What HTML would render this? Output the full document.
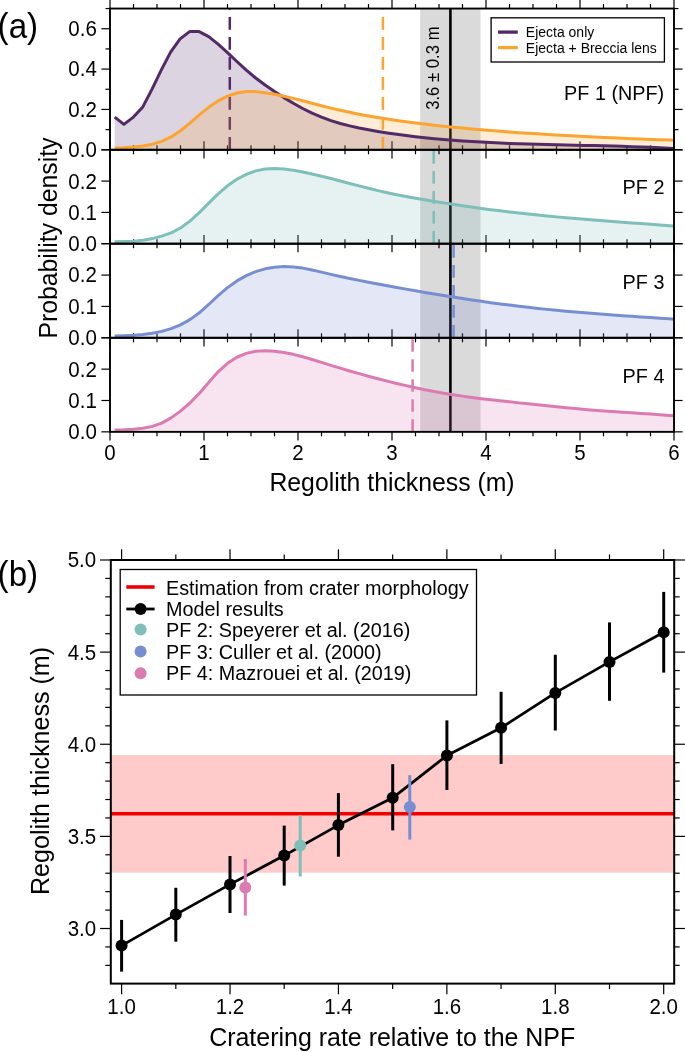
<!DOCTYPE html><html><head><meta charset="utf-8"><style>html,body{margin:0;padding:0;background:#fff;}svg{display:block;will-change:transform;}text{font-family:"Liberation Sans", sans-serif;}</style></head><body>
<svg width="685" height="1052" viewBox="0 0 685 1052">
<rect width="100%" height="100%" fill="#fff"/>
<rect x="420.2" y="8.55" width="60.30" height="423.30" fill="#dadada"/>
<line x1="450.4" y1="8.55" x2="450.4" y2="431.85" stroke="#000" stroke-width="2.6"/>
<line x1="110.00" y1="8.55" x2="110.00" y2="-0.05" stroke="#000" stroke-width="1.20"/>
<line x1="110.00" y1="149.80" x2="110.00" y2="158.40" stroke="#000" stroke-width="1.20"/>
<line x1="133.50" y1="8.55" x2="133.50" y2="4.05" stroke="#000" stroke-width="1.20"/>
<line x1="133.50" y1="149.80" x2="133.50" y2="154.30" stroke="#000" stroke-width="1.20"/>
<line x1="157.00" y1="8.55" x2="157.00" y2="4.05" stroke="#000" stroke-width="1.20"/>
<line x1="157.00" y1="149.80" x2="157.00" y2="154.30" stroke="#000" stroke-width="1.20"/>
<line x1="180.50" y1="8.55" x2="180.50" y2="4.05" stroke="#000" stroke-width="1.20"/>
<line x1="180.50" y1="149.80" x2="180.50" y2="154.30" stroke="#000" stroke-width="1.20"/>
<line x1="204.00" y1="8.55" x2="204.00" y2="-0.05" stroke="#000" stroke-width="1.20"/>
<line x1="204.00" y1="149.80" x2="204.00" y2="158.40" stroke="#000" stroke-width="1.20"/>
<line x1="227.50" y1="8.55" x2="227.50" y2="4.05" stroke="#000" stroke-width="1.20"/>
<line x1="227.50" y1="149.80" x2="227.50" y2="154.30" stroke="#000" stroke-width="1.20"/>
<line x1="251.00" y1="8.55" x2="251.00" y2="4.05" stroke="#000" stroke-width="1.20"/>
<line x1="251.00" y1="149.80" x2="251.00" y2="154.30" stroke="#000" stroke-width="1.20"/>
<line x1="274.50" y1="8.55" x2="274.50" y2="4.05" stroke="#000" stroke-width="1.20"/>
<line x1="274.50" y1="149.80" x2="274.50" y2="154.30" stroke="#000" stroke-width="1.20"/>
<line x1="298.00" y1="8.55" x2="298.00" y2="-0.05" stroke="#000" stroke-width="1.20"/>
<line x1="298.00" y1="149.80" x2="298.00" y2="158.40" stroke="#000" stroke-width="1.20"/>
<line x1="321.50" y1="8.55" x2="321.50" y2="4.05" stroke="#000" stroke-width="1.20"/>
<line x1="321.50" y1="149.80" x2="321.50" y2="154.30" stroke="#000" stroke-width="1.20"/>
<line x1="345.00" y1="8.55" x2="345.00" y2="4.05" stroke="#000" stroke-width="1.20"/>
<line x1="345.00" y1="149.80" x2="345.00" y2="154.30" stroke="#000" stroke-width="1.20"/>
<line x1="368.50" y1="8.55" x2="368.50" y2="4.05" stroke="#000" stroke-width="1.20"/>
<line x1="368.50" y1="149.80" x2="368.50" y2="154.30" stroke="#000" stroke-width="1.20"/>
<line x1="392.00" y1="8.55" x2="392.00" y2="-0.05" stroke="#000" stroke-width="1.20"/>
<line x1="392.00" y1="149.80" x2="392.00" y2="158.40" stroke="#000" stroke-width="1.20"/>
<line x1="415.50" y1="8.55" x2="415.50" y2="4.05" stroke="#000" stroke-width="1.20"/>
<line x1="415.50" y1="149.80" x2="415.50" y2="154.30" stroke="#000" stroke-width="1.20"/>
<line x1="439.00" y1="8.55" x2="439.00" y2="4.05" stroke="#000" stroke-width="1.20"/>
<line x1="439.00" y1="149.80" x2="439.00" y2="154.30" stroke="#000" stroke-width="1.20"/>
<line x1="462.50" y1="8.55" x2="462.50" y2="4.05" stroke="#000" stroke-width="1.20"/>
<line x1="462.50" y1="149.80" x2="462.50" y2="154.30" stroke="#000" stroke-width="1.20"/>
<line x1="486.00" y1="8.55" x2="486.00" y2="-0.05" stroke="#000" stroke-width="1.20"/>
<line x1="486.00" y1="149.80" x2="486.00" y2="158.40" stroke="#000" stroke-width="1.20"/>
<line x1="509.50" y1="8.55" x2="509.50" y2="4.05" stroke="#000" stroke-width="1.20"/>
<line x1="509.50" y1="149.80" x2="509.50" y2="154.30" stroke="#000" stroke-width="1.20"/>
<line x1="533.00" y1="8.55" x2="533.00" y2="4.05" stroke="#000" stroke-width="1.20"/>
<line x1="533.00" y1="149.80" x2="533.00" y2="154.30" stroke="#000" stroke-width="1.20"/>
<line x1="556.50" y1="8.55" x2="556.50" y2="4.05" stroke="#000" stroke-width="1.20"/>
<line x1="556.50" y1="149.80" x2="556.50" y2="154.30" stroke="#000" stroke-width="1.20"/>
<line x1="580.00" y1="8.55" x2="580.00" y2="-0.05" stroke="#000" stroke-width="1.20"/>
<line x1="580.00" y1="149.80" x2="580.00" y2="158.40" stroke="#000" stroke-width="1.20"/>
<line x1="603.50" y1="8.55" x2="603.50" y2="4.05" stroke="#000" stroke-width="1.20"/>
<line x1="603.50" y1="149.80" x2="603.50" y2="154.30" stroke="#000" stroke-width="1.20"/>
<line x1="627.00" y1="8.55" x2="627.00" y2="4.05" stroke="#000" stroke-width="1.20"/>
<line x1="627.00" y1="149.80" x2="627.00" y2="154.30" stroke="#000" stroke-width="1.20"/>
<line x1="650.50" y1="8.55" x2="650.50" y2="4.05" stroke="#000" stroke-width="1.20"/>
<line x1="650.50" y1="149.80" x2="650.50" y2="154.30" stroke="#000" stroke-width="1.20"/>
<line x1="674.00" y1="8.55" x2="674.00" y2="-0.05" stroke="#000" stroke-width="1.20"/>
<line x1="674.00" y1="149.80" x2="674.00" y2="158.40" stroke="#000" stroke-width="1.20"/>
<line x1="110.00" y1="149.80" x2="101.40" y2="149.80" stroke="#000" stroke-width="1.20"/>
<line x1="674.00" y1="149.80" x2="682.60" y2="149.80" stroke="#000" stroke-width="1.20"/>
<line x1="110.00" y1="129.62" x2="105.50" y2="129.62" stroke="#000" stroke-width="1.20"/>
<line x1="674.00" y1="129.62" x2="678.50" y2="129.62" stroke="#000" stroke-width="1.20"/>
<line x1="110.00" y1="109.44" x2="101.40" y2="109.44" stroke="#000" stroke-width="1.20"/>
<line x1="674.00" y1="109.44" x2="682.60" y2="109.44" stroke="#000" stroke-width="1.20"/>
<line x1="110.00" y1="89.26" x2="105.50" y2="89.26" stroke="#000" stroke-width="1.20"/>
<line x1="674.00" y1="89.26" x2="678.50" y2="89.26" stroke="#000" stroke-width="1.20"/>
<line x1="110.00" y1="69.09" x2="101.40" y2="69.09" stroke="#000" stroke-width="1.20"/>
<line x1="674.00" y1="69.09" x2="682.60" y2="69.09" stroke="#000" stroke-width="1.20"/>
<line x1="110.00" y1="48.91" x2="105.50" y2="48.91" stroke="#000" stroke-width="1.20"/>
<line x1="674.00" y1="48.91" x2="678.50" y2="48.91" stroke="#000" stroke-width="1.20"/>
<line x1="110.00" y1="28.73" x2="101.40" y2="28.73" stroke="#000" stroke-width="1.20"/>
<line x1="674.00" y1="28.73" x2="682.60" y2="28.73" stroke="#000" stroke-width="1.20"/>
<line x1="110.00" y1="8.55" x2="105.50" y2="8.55" stroke="#000" stroke-width="1.20"/>
<line x1="674.00" y1="8.55" x2="678.50" y2="8.55" stroke="#000" stroke-width="1.20"/>
<line x1="110.00" y1="149.80" x2="110.00" y2="141.20" stroke="#000" stroke-width="1.20"/>
<line x1="110.00" y1="243.70" x2="110.00" y2="252.30" stroke="#000" stroke-width="1.20"/>
<line x1="133.50" y1="149.80" x2="133.50" y2="145.30" stroke="#000" stroke-width="1.20"/>
<line x1="133.50" y1="243.70" x2="133.50" y2="248.20" stroke="#000" stroke-width="1.20"/>
<line x1="157.00" y1="149.80" x2="157.00" y2="145.30" stroke="#000" stroke-width="1.20"/>
<line x1="157.00" y1="243.70" x2="157.00" y2="248.20" stroke="#000" stroke-width="1.20"/>
<line x1="180.50" y1="149.80" x2="180.50" y2="145.30" stroke="#000" stroke-width="1.20"/>
<line x1="180.50" y1="243.70" x2="180.50" y2="248.20" stroke="#000" stroke-width="1.20"/>
<line x1="204.00" y1="149.80" x2="204.00" y2="141.20" stroke="#000" stroke-width="1.20"/>
<line x1="204.00" y1="243.70" x2="204.00" y2="252.30" stroke="#000" stroke-width="1.20"/>
<line x1="227.50" y1="149.80" x2="227.50" y2="145.30" stroke="#000" stroke-width="1.20"/>
<line x1="227.50" y1="243.70" x2="227.50" y2="248.20" stroke="#000" stroke-width="1.20"/>
<line x1="251.00" y1="149.80" x2="251.00" y2="145.30" stroke="#000" stroke-width="1.20"/>
<line x1="251.00" y1="243.70" x2="251.00" y2="248.20" stroke="#000" stroke-width="1.20"/>
<line x1="274.50" y1="149.80" x2="274.50" y2="145.30" stroke="#000" stroke-width="1.20"/>
<line x1="274.50" y1="243.70" x2="274.50" y2="248.20" stroke="#000" stroke-width="1.20"/>
<line x1="298.00" y1="149.80" x2="298.00" y2="141.20" stroke="#000" stroke-width="1.20"/>
<line x1="298.00" y1="243.70" x2="298.00" y2="252.30" stroke="#000" stroke-width="1.20"/>
<line x1="321.50" y1="149.80" x2="321.50" y2="145.30" stroke="#000" stroke-width="1.20"/>
<line x1="321.50" y1="243.70" x2="321.50" y2="248.20" stroke="#000" stroke-width="1.20"/>
<line x1="345.00" y1="149.80" x2="345.00" y2="145.30" stroke="#000" stroke-width="1.20"/>
<line x1="345.00" y1="243.70" x2="345.00" y2="248.20" stroke="#000" stroke-width="1.20"/>
<line x1="368.50" y1="149.80" x2="368.50" y2="145.30" stroke="#000" stroke-width="1.20"/>
<line x1="368.50" y1="243.70" x2="368.50" y2="248.20" stroke="#000" stroke-width="1.20"/>
<line x1="392.00" y1="149.80" x2="392.00" y2="141.20" stroke="#000" stroke-width="1.20"/>
<line x1="392.00" y1="243.70" x2="392.00" y2="252.30" stroke="#000" stroke-width="1.20"/>
<line x1="415.50" y1="149.80" x2="415.50" y2="145.30" stroke="#000" stroke-width="1.20"/>
<line x1="415.50" y1="243.70" x2="415.50" y2="248.20" stroke="#000" stroke-width="1.20"/>
<line x1="439.00" y1="149.80" x2="439.00" y2="145.30" stroke="#000" stroke-width="1.20"/>
<line x1="439.00" y1="243.70" x2="439.00" y2="248.20" stroke="#000" stroke-width="1.20"/>
<line x1="462.50" y1="149.80" x2="462.50" y2="145.30" stroke="#000" stroke-width="1.20"/>
<line x1="462.50" y1="243.70" x2="462.50" y2="248.20" stroke="#000" stroke-width="1.20"/>
<line x1="486.00" y1="149.80" x2="486.00" y2="141.20" stroke="#000" stroke-width="1.20"/>
<line x1="486.00" y1="243.70" x2="486.00" y2="252.30" stroke="#000" stroke-width="1.20"/>
<line x1="509.50" y1="149.80" x2="509.50" y2="145.30" stroke="#000" stroke-width="1.20"/>
<line x1="509.50" y1="243.70" x2="509.50" y2="248.20" stroke="#000" stroke-width="1.20"/>
<line x1="533.00" y1="149.80" x2="533.00" y2="145.30" stroke="#000" stroke-width="1.20"/>
<line x1="533.00" y1="243.70" x2="533.00" y2="248.20" stroke="#000" stroke-width="1.20"/>
<line x1="556.50" y1="149.80" x2="556.50" y2="145.30" stroke="#000" stroke-width="1.20"/>
<line x1="556.50" y1="243.70" x2="556.50" y2="248.20" stroke="#000" stroke-width="1.20"/>
<line x1="580.00" y1="149.80" x2="580.00" y2="141.20" stroke="#000" stroke-width="1.20"/>
<line x1="580.00" y1="243.70" x2="580.00" y2="252.30" stroke="#000" stroke-width="1.20"/>
<line x1="603.50" y1="149.80" x2="603.50" y2="145.30" stroke="#000" stroke-width="1.20"/>
<line x1="603.50" y1="243.70" x2="603.50" y2="248.20" stroke="#000" stroke-width="1.20"/>
<line x1="627.00" y1="149.80" x2="627.00" y2="145.30" stroke="#000" stroke-width="1.20"/>
<line x1="627.00" y1="243.70" x2="627.00" y2="248.20" stroke="#000" stroke-width="1.20"/>
<line x1="650.50" y1="149.80" x2="650.50" y2="145.30" stroke="#000" stroke-width="1.20"/>
<line x1="650.50" y1="243.70" x2="650.50" y2="248.20" stroke="#000" stroke-width="1.20"/>
<line x1="674.00" y1="149.80" x2="674.00" y2="141.20" stroke="#000" stroke-width="1.20"/>
<line x1="674.00" y1="243.70" x2="674.00" y2="252.30" stroke="#000" stroke-width="1.20"/>
<line x1="110.00" y1="243.70" x2="101.40" y2="243.70" stroke="#000" stroke-width="1.20"/>
<line x1="674.00" y1="243.70" x2="682.60" y2="243.70" stroke="#000" stroke-width="1.20"/>
<line x1="110.00" y1="212.40" x2="101.40" y2="212.40" stroke="#000" stroke-width="1.20"/>
<line x1="674.00" y1="212.40" x2="682.60" y2="212.40" stroke="#000" stroke-width="1.20"/>
<line x1="110.00" y1="181.10" x2="101.40" y2="181.10" stroke="#000" stroke-width="1.20"/>
<line x1="674.00" y1="181.10" x2="682.60" y2="181.10" stroke="#000" stroke-width="1.20"/>
<line x1="110.00" y1="149.80" x2="101.40" y2="149.80" stroke="#000" stroke-width="1.20"/>
<line x1="674.00" y1="149.80" x2="682.60" y2="149.80" stroke="#000" stroke-width="1.20"/>
<line x1="110.00" y1="243.70" x2="110.00" y2="235.10" stroke="#000" stroke-width="1.20"/>
<line x1="110.00" y1="337.80" x2="110.00" y2="346.40" stroke="#000" stroke-width="1.20"/>
<line x1="133.50" y1="243.70" x2="133.50" y2="239.20" stroke="#000" stroke-width="1.20"/>
<line x1="133.50" y1="337.80" x2="133.50" y2="342.30" stroke="#000" stroke-width="1.20"/>
<line x1="157.00" y1="243.70" x2="157.00" y2="239.20" stroke="#000" stroke-width="1.20"/>
<line x1="157.00" y1="337.80" x2="157.00" y2="342.30" stroke="#000" stroke-width="1.20"/>
<line x1="180.50" y1="243.70" x2="180.50" y2="239.20" stroke="#000" stroke-width="1.20"/>
<line x1="180.50" y1="337.80" x2="180.50" y2="342.30" stroke="#000" stroke-width="1.20"/>
<line x1="204.00" y1="243.70" x2="204.00" y2="235.10" stroke="#000" stroke-width="1.20"/>
<line x1="204.00" y1="337.80" x2="204.00" y2="346.40" stroke="#000" stroke-width="1.20"/>
<line x1="227.50" y1="243.70" x2="227.50" y2="239.20" stroke="#000" stroke-width="1.20"/>
<line x1="227.50" y1="337.80" x2="227.50" y2="342.30" stroke="#000" stroke-width="1.20"/>
<line x1="251.00" y1="243.70" x2="251.00" y2="239.20" stroke="#000" stroke-width="1.20"/>
<line x1="251.00" y1="337.80" x2="251.00" y2="342.30" stroke="#000" stroke-width="1.20"/>
<line x1="274.50" y1="243.70" x2="274.50" y2="239.20" stroke="#000" stroke-width="1.20"/>
<line x1="274.50" y1="337.80" x2="274.50" y2="342.30" stroke="#000" stroke-width="1.20"/>
<line x1="298.00" y1="243.70" x2="298.00" y2="235.10" stroke="#000" stroke-width="1.20"/>
<line x1="298.00" y1="337.80" x2="298.00" y2="346.40" stroke="#000" stroke-width="1.20"/>
<line x1="321.50" y1="243.70" x2="321.50" y2="239.20" stroke="#000" stroke-width="1.20"/>
<line x1="321.50" y1="337.80" x2="321.50" y2="342.30" stroke="#000" stroke-width="1.20"/>
<line x1="345.00" y1="243.70" x2="345.00" y2="239.20" stroke="#000" stroke-width="1.20"/>
<line x1="345.00" y1="337.80" x2="345.00" y2="342.30" stroke="#000" stroke-width="1.20"/>
<line x1="368.50" y1="243.70" x2="368.50" y2="239.20" stroke="#000" stroke-width="1.20"/>
<line x1="368.50" y1="337.80" x2="368.50" y2="342.30" stroke="#000" stroke-width="1.20"/>
<line x1="392.00" y1="243.70" x2="392.00" y2="235.10" stroke="#000" stroke-width="1.20"/>
<line x1="392.00" y1="337.80" x2="392.00" y2="346.40" stroke="#000" stroke-width="1.20"/>
<line x1="415.50" y1="243.70" x2="415.50" y2="239.20" stroke="#000" stroke-width="1.20"/>
<line x1="415.50" y1="337.80" x2="415.50" y2="342.30" stroke="#000" stroke-width="1.20"/>
<line x1="439.00" y1="243.70" x2="439.00" y2="239.20" stroke="#000" stroke-width="1.20"/>
<line x1="439.00" y1="337.80" x2="439.00" y2="342.30" stroke="#000" stroke-width="1.20"/>
<line x1="462.50" y1="243.70" x2="462.50" y2="239.20" stroke="#000" stroke-width="1.20"/>
<line x1="462.50" y1="337.80" x2="462.50" y2="342.30" stroke="#000" stroke-width="1.20"/>
<line x1="486.00" y1="243.70" x2="486.00" y2="235.10" stroke="#000" stroke-width="1.20"/>
<line x1="486.00" y1="337.80" x2="486.00" y2="346.40" stroke="#000" stroke-width="1.20"/>
<line x1="509.50" y1="243.70" x2="509.50" y2="239.20" stroke="#000" stroke-width="1.20"/>
<line x1="509.50" y1="337.80" x2="509.50" y2="342.30" stroke="#000" stroke-width="1.20"/>
<line x1="533.00" y1="243.70" x2="533.00" y2="239.20" stroke="#000" stroke-width="1.20"/>
<line x1="533.00" y1="337.80" x2="533.00" y2="342.30" stroke="#000" stroke-width="1.20"/>
<line x1="556.50" y1="243.70" x2="556.50" y2="239.20" stroke="#000" stroke-width="1.20"/>
<line x1="556.50" y1="337.80" x2="556.50" y2="342.30" stroke="#000" stroke-width="1.20"/>
<line x1="580.00" y1="243.70" x2="580.00" y2="235.10" stroke="#000" stroke-width="1.20"/>
<line x1="580.00" y1="337.80" x2="580.00" y2="346.40" stroke="#000" stroke-width="1.20"/>
<line x1="603.50" y1="243.70" x2="603.50" y2="239.20" stroke="#000" stroke-width="1.20"/>
<line x1="603.50" y1="337.80" x2="603.50" y2="342.30" stroke="#000" stroke-width="1.20"/>
<line x1="627.00" y1="243.70" x2="627.00" y2="239.20" stroke="#000" stroke-width="1.20"/>
<line x1="627.00" y1="337.80" x2="627.00" y2="342.30" stroke="#000" stroke-width="1.20"/>
<line x1="650.50" y1="243.70" x2="650.50" y2="239.20" stroke="#000" stroke-width="1.20"/>
<line x1="650.50" y1="337.80" x2="650.50" y2="342.30" stroke="#000" stroke-width="1.20"/>
<line x1="674.00" y1="243.70" x2="674.00" y2="235.10" stroke="#000" stroke-width="1.20"/>
<line x1="674.00" y1="337.80" x2="674.00" y2="346.40" stroke="#000" stroke-width="1.20"/>
<line x1="110.00" y1="337.80" x2="101.40" y2="337.80" stroke="#000" stroke-width="1.20"/>
<line x1="674.00" y1="337.80" x2="682.60" y2="337.80" stroke="#000" stroke-width="1.20"/>
<line x1="110.00" y1="306.43" x2="101.40" y2="306.43" stroke="#000" stroke-width="1.20"/>
<line x1="674.00" y1="306.43" x2="682.60" y2="306.43" stroke="#000" stroke-width="1.20"/>
<line x1="110.00" y1="275.07" x2="101.40" y2="275.07" stroke="#000" stroke-width="1.20"/>
<line x1="674.00" y1="275.07" x2="682.60" y2="275.07" stroke="#000" stroke-width="1.20"/>
<line x1="110.00" y1="243.70" x2="101.40" y2="243.70" stroke="#000" stroke-width="1.20"/>
<line x1="674.00" y1="243.70" x2="682.60" y2="243.70" stroke="#000" stroke-width="1.20"/>
<line x1="110.00" y1="337.80" x2="110.00" y2="329.20" stroke="#000" stroke-width="1.20"/>
<line x1="110.00" y1="431.85" x2="110.00" y2="440.45" stroke="#000" stroke-width="1.20"/>
<line x1="133.50" y1="337.80" x2="133.50" y2="333.30" stroke="#000" stroke-width="1.20"/>
<line x1="133.50" y1="431.85" x2="133.50" y2="436.35" stroke="#000" stroke-width="1.20"/>
<line x1="157.00" y1="337.80" x2="157.00" y2="333.30" stroke="#000" stroke-width="1.20"/>
<line x1="157.00" y1="431.85" x2="157.00" y2="436.35" stroke="#000" stroke-width="1.20"/>
<line x1="180.50" y1="337.80" x2="180.50" y2="333.30" stroke="#000" stroke-width="1.20"/>
<line x1="180.50" y1="431.85" x2="180.50" y2="436.35" stroke="#000" stroke-width="1.20"/>
<line x1="204.00" y1="337.80" x2="204.00" y2="329.20" stroke="#000" stroke-width="1.20"/>
<line x1="204.00" y1="431.85" x2="204.00" y2="440.45" stroke="#000" stroke-width="1.20"/>
<line x1="227.50" y1="337.80" x2="227.50" y2="333.30" stroke="#000" stroke-width="1.20"/>
<line x1="227.50" y1="431.85" x2="227.50" y2="436.35" stroke="#000" stroke-width="1.20"/>
<line x1="251.00" y1="337.80" x2="251.00" y2="333.30" stroke="#000" stroke-width="1.20"/>
<line x1="251.00" y1="431.85" x2="251.00" y2="436.35" stroke="#000" stroke-width="1.20"/>
<line x1="274.50" y1="337.80" x2="274.50" y2="333.30" stroke="#000" stroke-width="1.20"/>
<line x1="274.50" y1="431.85" x2="274.50" y2="436.35" stroke="#000" stroke-width="1.20"/>
<line x1="298.00" y1="337.80" x2="298.00" y2="329.20" stroke="#000" stroke-width="1.20"/>
<line x1="298.00" y1="431.85" x2="298.00" y2="440.45" stroke="#000" stroke-width="1.20"/>
<line x1="321.50" y1="337.80" x2="321.50" y2="333.30" stroke="#000" stroke-width="1.20"/>
<line x1="321.50" y1="431.85" x2="321.50" y2="436.35" stroke="#000" stroke-width="1.20"/>
<line x1="345.00" y1="337.80" x2="345.00" y2="333.30" stroke="#000" stroke-width="1.20"/>
<line x1="345.00" y1="431.85" x2="345.00" y2="436.35" stroke="#000" stroke-width="1.20"/>
<line x1="368.50" y1="337.80" x2="368.50" y2="333.30" stroke="#000" stroke-width="1.20"/>
<line x1="368.50" y1="431.85" x2="368.50" y2="436.35" stroke="#000" stroke-width="1.20"/>
<line x1="392.00" y1="337.80" x2="392.00" y2="329.20" stroke="#000" stroke-width="1.20"/>
<line x1="392.00" y1="431.85" x2="392.00" y2="440.45" stroke="#000" stroke-width="1.20"/>
<line x1="415.50" y1="337.80" x2="415.50" y2="333.30" stroke="#000" stroke-width="1.20"/>
<line x1="415.50" y1="431.85" x2="415.50" y2="436.35" stroke="#000" stroke-width="1.20"/>
<line x1="439.00" y1="337.80" x2="439.00" y2="333.30" stroke="#000" stroke-width="1.20"/>
<line x1="439.00" y1="431.85" x2="439.00" y2="436.35" stroke="#000" stroke-width="1.20"/>
<line x1="462.50" y1="337.80" x2="462.50" y2="333.30" stroke="#000" stroke-width="1.20"/>
<line x1="462.50" y1="431.85" x2="462.50" y2="436.35" stroke="#000" stroke-width="1.20"/>
<line x1="486.00" y1="337.80" x2="486.00" y2="329.20" stroke="#000" stroke-width="1.20"/>
<line x1="486.00" y1="431.85" x2="486.00" y2="440.45" stroke="#000" stroke-width="1.20"/>
<line x1="509.50" y1="337.80" x2="509.50" y2="333.30" stroke="#000" stroke-width="1.20"/>
<line x1="509.50" y1="431.85" x2="509.50" y2="436.35" stroke="#000" stroke-width="1.20"/>
<line x1="533.00" y1="337.80" x2="533.00" y2="333.30" stroke="#000" stroke-width="1.20"/>
<line x1="533.00" y1="431.85" x2="533.00" y2="436.35" stroke="#000" stroke-width="1.20"/>
<line x1="556.50" y1="337.80" x2="556.50" y2="333.30" stroke="#000" stroke-width="1.20"/>
<line x1="556.50" y1="431.85" x2="556.50" y2="436.35" stroke="#000" stroke-width="1.20"/>
<line x1="580.00" y1="337.80" x2="580.00" y2="329.20" stroke="#000" stroke-width="1.20"/>
<line x1="580.00" y1="431.85" x2="580.00" y2="440.45" stroke="#000" stroke-width="1.20"/>
<line x1="603.50" y1="337.80" x2="603.50" y2="333.30" stroke="#000" stroke-width="1.20"/>
<line x1="603.50" y1="431.85" x2="603.50" y2="436.35" stroke="#000" stroke-width="1.20"/>
<line x1="627.00" y1="337.80" x2="627.00" y2="333.30" stroke="#000" stroke-width="1.20"/>
<line x1="627.00" y1="431.85" x2="627.00" y2="436.35" stroke="#000" stroke-width="1.20"/>
<line x1="650.50" y1="337.80" x2="650.50" y2="333.30" stroke="#000" stroke-width="1.20"/>
<line x1="650.50" y1="431.85" x2="650.50" y2="436.35" stroke="#000" stroke-width="1.20"/>
<line x1="674.00" y1="337.80" x2="674.00" y2="329.20" stroke="#000" stroke-width="1.20"/>
<line x1="674.00" y1="431.85" x2="674.00" y2="440.45" stroke="#000" stroke-width="1.20"/>
<line x1="110.00" y1="431.85" x2="101.40" y2="431.85" stroke="#000" stroke-width="1.20"/>
<line x1="674.00" y1="431.85" x2="682.60" y2="431.85" stroke="#000" stroke-width="1.20"/>
<line x1="110.00" y1="400.50" x2="101.40" y2="400.50" stroke="#000" stroke-width="1.20"/>
<line x1="674.00" y1="400.50" x2="682.60" y2="400.50" stroke="#000" stroke-width="1.20"/>
<line x1="110.00" y1="369.15" x2="101.40" y2="369.15" stroke="#000" stroke-width="1.20"/>
<line x1="674.00" y1="369.15" x2="682.60" y2="369.15" stroke="#000" stroke-width="1.20"/>
<line x1="110.00" y1="337.80" x2="101.40" y2="337.80" stroke="#000" stroke-width="1.20"/>
<line x1="674.00" y1="337.80" x2="682.60" y2="337.80" stroke="#000" stroke-width="1.20"/>
<text transform="translate(438.60,109.80) rotate(-90) scale(1,1.050)" font-size="16.70">3.6 ± 0.3 m</text>
<polygon points="114.70,149.80 114.70,117.10 123.90,124.40 133.40,117.10 142.80,106.90 152.30,88.60 161.10,70.40 170.60,52.10 180.10,38.90 189.60,31.60 199.10,31.60 208.70,36.57 218.10,44.05 227.50,52.57 236.90,61.48 246.30,70.13 255.70,77.98 265.10,85.06 274.50,91.55 283.90,97.61 293.30,103.29 302.70,108.50 312.10,113.16 321.50,117.18 330.90,120.59 340.30,123.47 349.70,125.91 359.10,127.99 368.50,129.80 377.90,131.43 387.30,132.92 396.70,134.29 406.10,135.54 415.50,136.68 424.90,137.72 434.30,138.66 443.70,139.51 453.10,140.27 462.50,140.95 471.90,141.56 481.30,142.10 490.70,142.58 500.10,143.01 509.50,143.39 518.90,143.72 528.30,144.02 537.70,144.29 547.10,144.53 556.50,144.76 565.90,144.97 575.30,145.18 584.70,145.38 594.10,145.60 603.50,145.83 612.90,146.07 622.30,146.34 631.70,146.65 641.10,146.98 650.50,147.37 659.90,147.80 669.30,148.29 674.00,148.56 674.00,149.80" fill="#522a67" fill-opacity="0.20"/>
<line x1="229.80" y1="149.80" x2="229.80" y2="8.55" stroke="#522a67" stroke-width="2.50" stroke-dasharray="12.7 7.3"/>
<polygon points="114.70,149.80 114.70,148.11 124.10,147.79 133.50,147.05 142.90,145.91 152.30,144.18 161.70,141.32 171.10,136.89 180.50,130.76 189.90,123.10 199.30,114.93 208.70,107.34 218.10,100.93 227.50,96.09 236.90,92.96 246.30,91.57 255.70,91.62 265.10,92.65 274.50,94.22 283.90,96.18 293.30,98.41 302.70,100.81 312.10,103.29 321.50,105.75 330.90,108.11 340.30,110.30 349.70,112.33 359.10,114.21 368.50,115.94 377.90,117.55 387.30,119.05 396.70,120.45 406.10,121.75 415.50,122.97 424.90,124.11 434.30,125.18 443.70,126.20 453.10,127.16 462.50,128.07 471.90,128.93 481.30,129.75 490.70,130.53 500.10,131.26 509.50,131.96 518.90,132.63 528.30,133.26 537.70,133.87 547.10,134.45 556.50,135.00 565.90,135.53 575.30,136.03 584.70,136.52 594.10,136.98 603.50,137.43 612.90,137.85 622.30,138.27 631.70,138.66 641.10,139.05 650.50,139.41 659.90,139.77 669.30,140.11 674.00,140.27 674.00,149.80" fill="#fca430" fill-opacity="0.20"/>
<line x1="382.90" y1="149.80" x2="382.90" y2="8.55" stroke="#fca430" stroke-width="2.50" stroke-dasharray="12.7 7.3"/>
<polyline points="114.70,117.10 123.90,124.40 133.40,117.10 142.80,106.90 152.30,88.60 161.10,70.40 170.60,52.10 180.10,38.90 189.60,31.60 199.10,31.60 208.70,36.57 218.10,44.05 227.50,52.57 236.90,61.48 246.30,70.13 255.70,77.98 265.10,85.06 274.50,91.55 283.90,97.61 293.30,103.29 302.70,108.50 312.10,113.16 321.50,117.18 330.90,120.59 340.30,123.47 349.70,125.91 359.10,127.99 368.50,129.80 377.90,131.43 387.30,132.92 396.70,134.29 406.10,135.54 415.50,136.68 424.90,137.72 434.30,138.66 443.70,139.51 453.10,140.27 462.50,140.95 471.90,141.56 481.30,142.10 490.70,142.58 500.10,143.01 509.50,143.39 518.90,143.72 528.30,144.02 537.70,144.29 547.10,144.53 556.50,144.76 565.90,144.97 575.30,145.18 584.70,145.38 594.10,145.60 603.50,145.83 612.90,146.07 622.30,146.34 631.70,146.65 641.10,146.98 650.50,147.37 659.90,147.80 669.30,148.29 674.00,148.56" fill="none" stroke="#522a67" stroke-width="3.00" stroke-linejoin="round"/>
<polyline points="114.70,148.11 124.10,147.79 133.50,147.05 142.90,145.91 152.30,144.18 161.70,141.32 171.10,136.89 180.50,130.76 189.90,123.10 199.30,114.93 208.70,107.34 218.10,100.93 227.50,96.09 236.90,92.96 246.30,91.57 255.70,91.62 265.10,92.65 274.50,94.22 283.90,96.18 293.30,98.41 302.70,100.81 312.10,103.29 321.50,105.75 330.90,108.11 340.30,110.30 349.70,112.33 359.10,114.21 368.50,115.94 377.90,117.55 387.30,119.05 396.70,120.45 406.10,121.75 415.50,122.97 424.90,124.11 434.30,125.18 443.70,126.20 453.10,127.16 462.50,128.07 471.90,128.93 481.30,129.75 490.70,130.53 500.10,131.26 509.50,131.96 518.90,132.63 528.30,133.26 537.70,133.87 547.10,134.45 556.50,135.00 565.90,135.53 575.30,136.03 584.70,136.52 594.10,136.98 603.50,137.43 612.90,137.85 622.30,138.27 631.70,138.66 641.10,139.05 650.50,139.41 659.90,139.77 669.30,140.11 674.00,140.27" fill="none" stroke="#fca430" stroke-width="3.00" stroke-linejoin="round"/>
<polygon points="114.70,243.70 114.70,241.79 124.10,241.46 133.50,241.16 142.90,240.31 152.30,238.60 161.70,236.15 171.10,232.87 180.50,228.04 189.90,221.14 199.30,212.60 208.70,203.17 218.10,193.88 227.50,185.81 236.90,179.28 246.30,174.32 255.70,170.89 265.10,168.96 274.50,168.40 283.90,168.94 293.30,170.22 302.70,171.94 312.10,173.95 321.50,176.17 330.90,178.54 340.30,180.99 349.70,183.46 359.10,185.92 368.50,188.31 377.90,190.59 387.30,192.71 396.70,194.68 406.10,196.51 415.50,198.23 424.90,199.85 434.30,201.40 443.70,202.89 453.10,204.34 462.50,205.74 471.90,207.10 481.30,208.41 490.70,209.66 500.10,210.86 509.50,212.00 518.90,213.09 528.30,214.11 537.70,215.08 547.10,216.00 556.50,216.87 565.90,217.70 575.30,218.50 584.70,219.28 594.10,220.03 603.50,220.76 612.90,221.49 622.30,222.20 631.70,222.91 641.10,223.61 650.50,224.31 659.90,225.01 669.30,225.71 674.00,226.06 674.00,243.70" fill="#7fbfb9" fill-opacity="0.20"/>
<line x1="433.70" y1="243.70" x2="433.70" y2="149.80" stroke="#7fbfb9" stroke-width="2.50" stroke-dasharray="12.7 7.3"/>
<polyline points="114.70,241.79 124.10,241.46 133.50,241.16 142.90,240.31 152.30,238.60 161.70,236.15 171.10,232.87 180.50,228.04 189.90,221.14 199.30,212.60 208.70,203.17 218.10,193.88 227.50,185.81 236.90,179.28 246.30,174.32 255.70,170.89 265.10,168.96 274.50,168.40 283.90,168.94 293.30,170.22 302.70,171.94 312.10,173.95 321.50,176.17 330.90,178.54 340.30,180.99 349.70,183.46 359.10,185.92 368.50,188.31 377.90,190.59 387.30,192.71 396.70,194.68 406.10,196.51 415.50,198.23 424.90,199.85 434.30,201.40 443.70,202.89 453.10,204.34 462.50,205.74 471.90,207.10 481.30,208.41 490.70,209.66 500.10,210.86 509.50,212.00 518.90,213.09 528.30,214.11 537.70,215.08 547.10,216.00 556.50,216.87 565.90,217.70 575.30,218.50 584.70,219.28 594.10,220.03 603.50,220.76 612.90,221.49 622.30,222.20 631.70,222.91 641.10,223.61 650.50,224.31 659.90,225.01 669.30,225.71 674.00,226.06" fill="none" stroke="#7fbfb9" stroke-width="3.00" stroke-linejoin="round"/>
<polygon points="114.70,337.80 114.70,335.99 124.10,335.71 133.50,335.31 142.90,334.58 152.30,333.32 161.70,331.40 171.10,328.65 180.50,324.82 189.90,319.62 199.30,312.84 208.70,304.47 218.10,295.61 227.50,287.62 236.90,280.93 246.30,275.61 255.70,271.62 265.10,268.85 274.50,267.20 283.90,266.58 293.30,266.91 302.70,268.10 312.10,269.92 321.50,272.10 330.90,274.36 340.30,276.50 349.70,278.50 359.10,280.40 368.50,282.22 377.90,283.99 387.30,285.73 396.70,287.45 406.10,289.14 415.50,290.81 424.90,292.44 434.30,294.03 443.70,295.58 453.10,297.09 462.50,298.55 471.90,299.97 481.30,301.33 490.70,302.64 500.10,303.91 509.50,305.11 518.90,306.26 528.30,307.36 537.70,308.40 547.10,309.38 556.50,310.32 565.90,311.20 575.30,312.05 584.70,312.85 594.10,313.61 603.50,314.33 612.90,315.02 622.30,315.68 631.70,316.33 641.10,316.96 650.50,317.59 659.90,318.21 669.30,318.84 674.00,319.17 674.00,337.80" fill="#788ed2" fill-opacity="0.20"/>
<line x1="453.60" y1="337.80" x2="453.60" y2="243.70" stroke="#788ed2" stroke-width="2.50" stroke-dasharray="12.7 7.3"/>
<polyline points="114.70,335.99 124.10,335.71 133.50,335.31 142.90,334.58 152.30,333.32 161.70,331.40 171.10,328.65 180.50,324.82 189.90,319.62 199.30,312.84 208.70,304.47 218.10,295.61 227.50,287.62 236.90,280.93 246.30,275.61 255.70,271.62 265.10,268.85 274.50,267.20 283.90,266.58 293.30,266.91 302.70,268.10 312.10,269.92 321.50,272.10 330.90,274.36 340.30,276.50 349.70,278.50 359.10,280.40 368.50,282.22 377.90,283.99 387.30,285.73 396.70,287.45 406.10,289.14 415.50,290.81 424.90,292.44 434.30,294.03 443.70,295.58 453.10,297.09 462.50,298.55 471.90,299.97 481.30,301.33 490.70,302.64 500.10,303.91 509.50,305.11 518.90,306.26 528.30,307.36 537.70,308.40 547.10,309.38 556.50,310.32 565.90,311.20 575.30,312.05 584.70,312.85 594.10,313.61 603.50,314.33 612.90,315.02 622.30,315.68 631.70,316.33 641.10,316.96 650.50,317.59 659.90,318.21 669.30,318.84 674.00,319.17" fill="none" stroke="#788ed2" stroke-width="3.00" stroke-linejoin="round"/>
<polygon points="114.70,431.85 114.70,430.00 124.10,429.71 133.50,429.16 142.90,428.17 152.30,426.36 161.70,423.07 171.10,417.90 180.50,411.11 189.90,402.99 199.30,393.42 208.70,382.50 218.10,371.83 227.50,363.29 236.90,357.25 246.30,353.38 255.70,351.33 265.10,350.70 274.50,351.14 283.90,352.41 293.30,354.34 302.70,356.75 312.10,359.47 321.50,362.38 330.90,365.32 340.30,368.18 349.70,370.95 359.10,373.63 368.50,376.22 377.90,378.72 387.30,381.13 396.70,383.44 406.10,385.64 415.50,387.73 424.90,389.69 434.30,391.52 443.70,393.20 453.10,394.73 462.50,396.14 471.90,397.44 481.30,398.64 490.70,399.76 500.10,400.83 509.50,401.86 518.90,402.87 528.30,403.86 537.70,404.85 547.10,405.82 556.50,406.76 565.90,407.68 575.30,408.56 584.70,409.39 594.10,410.18 603.50,410.90 612.90,411.58 622.30,412.21 631.70,412.82 641.10,413.43 650.50,414.05 659.90,414.70 669.30,415.40 674.00,415.79 674.00,431.85" fill="#dc7ab2" fill-opacity="0.20"/>
<line x1="412.60" y1="431.85" x2="412.60" y2="337.80" stroke="#dc7ab2" stroke-width="2.50" stroke-dasharray="12.7 7.3"/>
<polyline points="114.70,430.00 124.10,429.71 133.50,429.16 142.90,428.17 152.30,426.36 161.70,423.07 171.10,417.90 180.50,411.11 189.90,402.99 199.30,393.42 208.70,382.50 218.10,371.83 227.50,363.29 236.90,357.25 246.30,353.38 255.70,351.33 265.10,350.70 274.50,351.14 283.90,352.41 293.30,354.34 302.70,356.75 312.10,359.47 321.50,362.38 330.90,365.32 340.30,368.18 349.70,370.95 359.10,373.63 368.50,376.22 377.90,378.72 387.30,381.13 396.70,383.44 406.10,385.64 415.50,387.73 424.90,389.69 434.30,391.52 443.70,393.20 453.10,394.73 462.50,396.14 471.90,397.44 481.30,398.64 490.70,399.76 500.10,400.83 509.50,401.86 518.90,402.87 528.30,403.86 537.70,404.85 547.10,405.82 556.50,406.76 565.90,407.68 575.30,408.56 584.70,409.39 594.10,410.18 603.50,410.90 612.90,411.58 622.30,412.21 631.70,412.82 641.10,413.43 650.50,414.05 659.90,414.70 669.30,415.40 674.00,415.79" fill="none" stroke="#dc7ab2" stroke-width="3.00" stroke-linejoin="round"/>
<rect x="110.00" y="8.55" width="564.00" height="141.25" fill="none" stroke="#000" stroke-width="1.90"/>
<rect x="110.00" y="149.80" width="564.00" height="93.90" fill="none" stroke="#000" stroke-width="1.90"/>
<rect x="110.00" y="243.70" width="564.00" height="94.10" fill="none" stroke="#000" stroke-width="1.90"/>
<rect x="110.00" y="337.80" width="564.00" height="94.05" fill="none" stroke="#000" stroke-width="1.90"/>
<rect x="491.1" y="17.8" width="173.30" height="44.20" fill="#fff" stroke="#000" stroke-width="1.3"/>
<line x1="498" y1="32.1" x2="517.8" y2="32.1" stroke="#522a67" stroke-width="3.3"/>
<line x1="498" y1="47.6" x2="517.8" y2="47.6" stroke="#fca430" stroke-width="3.3"/>
<text transform="translate(525.80,36.70) scale(1,1.050)" font-size="14.00">Ejecta only</text>
<text transform="translate(525.80,52.90) scale(1,1.050)" font-size="14.00">Ejecta + Breccia lens</text>
<text transform="translate(664.20,99.50) scale(1,1.050)" font-size="19.80" text-anchor="end">PF 1 (NPF)</text>
<text transform="translate(664.40,193.90) scale(1,1.050)" font-size="19.80" text-anchor="end">PF 2</text>
<text transform="translate(664.40,288.60) scale(1,1.050)" font-size="19.80" text-anchor="end">PF 3</text>
<text transform="translate(664.40,382.80) scale(1,1.050)" font-size="19.80" text-anchor="end">PF 4</text>
<text transform="translate(96.80,157.20) scale(1,1.050)" font-size="20.50" text-anchor="end">0.0</text>
<text transform="translate(96.80,116.85) scale(1,1.050)" font-size="20.50" text-anchor="end">0.2</text>
<text transform="translate(96.80,76.49) scale(1,1.050)" font-size="20.50" text-anchor="end">0.4</text>
<text transform="translate(96.80,36.13) scale(1,1.050)" font-size="20.50" text-anchor="end">0.6</text>
<text transform="translate(96.80,251.10) scale(1,1.050)" font-size="20.50" text-anchor="end">0.0</text>
<text transform="translate(96.80,219.80) scale(1,1.050)" font-size="20.50" text-anchor="end">0.1</text>
<text transform="translate(96.80,188.50) scale(1,1.050)" font-size="20.50" text-anchor="end">0.2</text>
<text transform="translate(96.80,345.20) scale(1,1.050)" font-size="20.50" text-anchor="end">0.0</text>
<text transform="translate(96.80,313.84) scale(1,1.050)" font-size="20.50" text-anchor="end">0.1</text>
<text transform="translate(96.80,282.47) scale(1,1.050)" font-size="20.50" text-anchor="end">0.2</text>
<text transform="translate(96.80,439.25) scale(1,1.050)" font-size="20.50" text-anchor="end">0.0</text>
<text transform="translate(96.80,407.90) scale(1,1.050)" font-size="20.50" text-anchor="end">0.1</text>
<text transform="translate(96.80,376.55) scale(1,1.050)" font-size="20.50" text-anchor="end">0.2</text>
<text transform="translate(110.00,459.80) scale(1,1.050)" font-size="20.50" text-anchor="middle">0</text>
<text transform="translate(204.00,459.80) scale(1,1.050)" font-size="20.50" text-anchor="middle">1</text>
<text transform="translate(298.00,459.80) scale(1,1.050)" font-size="20.50" text-anchor="middle">2</text>
<text transform="translate(392.00,459.80) scale(1,1.050)" font-size="20.50" text-anchor="middle">3</text>
<text transform="translate(486.00,459.80) scale(1,1.050)" font-size="20.50" text-anchor="middle">4</text>
<text transform="translate(580.00,459.80) scale(1,1.050)" font-size="20.50" text-anchor="middle">5</text>
<text transform="translate(674.00,459.80) scale(1,1.050)" font-size="20.50" text-anchor="middle">6</text>
<text transform="translate(392.00,490.60) scale(1,1.050)" font-size="24.80" text-anchor="middle">Regolith thickness (m)</text>
<text transform="translate(57.40,238.00) rotate(-90) scale(1,1.050)" font-size="24.80" text-anchor="middle">Probability density</text>
<text transform="translate(-2.40,38.45) scale(1,1.030)" font-size="33.20">(a)</text>
<rect x="110.80" y="755.0" width="563.40" height="117.70" fill="#fecaca"/>
<line x1="110.80" y1="813.8" x2="674.20" y2="813.8" stroke="#f00000" stroke-width="3.6"/>
<polyline points="121.60,945.60 175.80,914.60 230.00,884.40 284.20,855.60 338.40,825.10 392.70,797.80 446.90,755.50 501.10,727.80 555.30,692.90 609.50,661.90 663.70,632.20" fill="none" stroke="#000" stroke-width="2.8" stroke-linejoin="round"/>
<line x1="121.60" y1="919.90" x2="121.60" y2="971.60" stroke="#000" stroke-width="3"/>
<circle cx="121.60" cy="945.60" r="6" fill="#000"/>
<line x1="175.80" y1="887.80" x2="175.80" y2="941.70" stroke="#000" stroke-width="3"/>
<circle cx="175.80" cy="914.60" r="6" fill="#000"/>
<line x1="230.00" y1="856.00" x2="230.00" y2="913.00" stroke="#000" stroke-width="3"/>
<circle cx="230.00" cy="884.40" r="6" fill="#000"/>
<line x1="284.20" y1="825.60" x2="284.20" y2="885.60" stroke="#000" stroke-width="3"/>
<circle cx="284.20" cy="855.60" r="6" fill="#000"/>
<line x1="338.40" y1="793.10" x2="338.40" y2="856.70" stroke="#000" stroke-width="3"/>
<circle cx="338.40" cy="825.10" r="6" fill="#000"/>
<line x1="392.70" y1="764.20" x2="392.70" y2="830.40" stroke="#000" stroke-width="3"/>
<circle cx="392.70" cy="797.80" r="6" fill="#000"/>
<line x1="446.90" y1="720.40" x2="446.90" y2="790.00" stroke="#000" stroke-width="3"/>
<circle cx="446.90" cy="755.50" r="6" fill="#000"/>
<line x1="501.10" y1="691.80" x2="501.10" y2="763.90" stroke="#000" stroke-width="3"/>
<circle cx="501.10" cy="727.80" r="6" fill="#000"/>
<line x1="555.30" y1="654.80" x2="555.30" y2="730.50" stroke="#000" stroke-width="3"/>
<circle cx="555.30" cy="692.90" r="6" fill="#000"/>
<line x1="609.50" y1="622.40" x2="609.50" y2="700.80" stroke="#000" stroke-width="3"/>
<circle cx="609.50" cy="661.90" r="6" fill="#000"/>
<line x1="663.70" y1="591.90" x2="663.70" y2="672.60" stroke="#000" stroke-width="3"/>
<circle cx="663.70" cy="632.20" r="6" fill="#000"/>
<line x1="245.30" y1="858.90" x2="245.30" y2="915.60" stroke="#dc7ab2" stroke-width="3"/>
<circle cx="245.30" cy="887.50" r="6" fill="#dc7ab2"/>
<line x1="300.20" y1="815.40" x2="300.20" y2="876.40" stroke="#7fbfb9" stroke-width="3"/>
<circle cx="300.20" cy="845.60" r="6" fill="#7fbfb9"/>
<line x1="409.80" y1="775.20" x2="409.80" y2="839.60" stroke="#788ed2" stroke-width="3"/>
<circle cx="409.80" cy="807.00" r="6" fill="#788ed2"/>
<line x1="121.60" y1="560.00" x2="121.60" y2="549.30" stroke="#000" stroke-width="1.20"/>
<line x1="121.60" y1="983.60" x2="121.60" y2="994.30" stroke="#000" stroke-width="1.20"/>
<line x1="175.81" y1="560.00" x2="175.81" y2="554.50" stroke="#000" stroke-width="1.20"/>
<line x1="175.81" y1="983.60" x2="175.81" y2="989.10" stroke="#000" stroke-width="1.20"/>
<line x1="230.02" y1="560.00" x2="230.02" y2="549.30" stroke="#000" stroke-width="1.20"/>
<line x1="230.02" y1="983.60" x2="230.02" y2="994.30" stroke="#000" stroke-width="1.20"/>
<line x1="284.23" y1="560.00" x2="284.23" y2="554.50" stroke="#000" stroke-width="1.20"/>
<line x1="284.23" y1="983.60" x2="284.23" y2="989.10" stroke="#000" stroke-width="1.20"/>
<line x1="338.44" y1="560.00" x2="338.44" y2="549.30" stroke="#000" stroke-width="1.20"/>
<line x1="338.44" y1="983.60" x2="338.44" y2="994.30" stroke="#000" stroke-width="1.20"/>
<line x1="392.65" y1="560.00" x2="392.65" y2="554.50" stroke="#000" stroke-width="1.20"/>
<line x1="392.65" y1="983.60" x2="392.65" y2="989.10" stroke="#000" stroke-width="1.20"/>
<line x1="446.86" y1="560.00" x2="446.86" y2="549.30" stroke="#000" stroke-width="1.20"/>
<line x1="446.86" y1="983.60" x2="446.86" y2="994.30" stroke="#000" stroke-width="1.20"/>
<line x1="501.07" y1="560.00" x2="501.07" y2="554.50" stroke="#000" stroke-width="1.20"/>
<line x1="501.07" y1="983.60" x2="501.07" y2="989.10" stroke="#000" stroke-width="1.20"/>
<line x1="555.28" y1="560.00" x2="555.28" y2="549.30" stroke="#000" stroke-width="1.20"/>
<line x1="555.28" y1="983.60" x2="555.28" y2="994.30" stroke="#000" stroke-width="1.20"/>
<line x1="609.49" y1="560.00" x2="609.49" y2="554.50" stroke="#000" stroke-width="1.20"/>
<line x1="609.49" y1="983.60" x2="609.49" y2="989.10" stroke="#000" stroke-width="1.20"/>
<line x1="663.70" y1="560.00" x2="663.70" y2="549.30" stroke="#000" stroke-width="1.20"/>
<line x1="663.70" y1="983.60" x2="663.70" y2="994.30" stroke="#000" stroke-width="1.20"/>
<line x1="110.80" y1="560.00" x2="100.10" y2="560.00" stroke="#000" stroke-width="1.20"/>
<line x1="674.20" y1="560.00" x2="684.90" y2="560.00" stroke="#000" stroke-width="1.20"/>
<line x1="110.80" y1="578.42" x2="105.30" y2="578.42" stroke="#000" stroke-width="1.20"/>
<line x1="674.20" y1="578.42" x2="679.70" y2="578.42" stroke="#000" stroke-width="1.20"/>
<line x1="110.80" y1="596.85" x2="105.30" y2="596.85" stroke="#000" stroke-width="1.20"/>
<line x1="674.20" y1="596.85" x2="679.70" y2="596.85" stroke="#000" stroke-width="1.20"/>
<line x1="110.80" y1="615.27" x2="105.30" y2="615.27" stroke="#000" stroke-width="1.20"/>
<line x1="674.20" y1="615.27" x2="679.70" y2="615.27" stroke="#000" stroke-width="1.20"/>
<line x1="110.80" y1="633.70" x2="105.30" y2="633.70" stroke="#000" stroke-width="1.20"/>
<line x1="674.20" y1="633.70" x2="679.70" y2="633.70" stroke="#000" stroke-width="1.20"/>
<line x1="110.80" y1="652.12" x2="100.10" y2="652.12" stroke="#000" stroke-width="1.20"/>
<line x1="674.20" y1="652.12" x2="684.90" y2="652.12" stroke="#000" stroke-width="1.20"/>
<line x1="110.80" y1="670.55" x2="105.30" y2="670.55" stroke="#000" stroke-width="1.20"/>
<line x1="674.20" y1="670.55" x2="679.70" y2="670.55" stroke="#000" stroke-width="1.20"/>
<line x1="110.80" y1="688.98" x2="105.30" y2="688.98" stroke="#000" stroke-width="1.20"/>
<line x1="674.20" y1="688.98" x2="679.70" y2="688.98" stroke="#000" stroke-width="1.20"/>
<line x1="110.80" y1="707.40" x2="105.30" y2="707.40" stroke="#000" stroke-width="1.20"/>
<line x1="674.20" y1="707.40" x2="679.70" y2="707.40" stroke="#000" stroke-width="1.20"/>
<line x1="110.80" y1="725.83" x2="105.30" y2="725.83" stroke="#000" stroke-width="1.20"/>
<line x1="674.20" y1="725.83" x2="679.70" y2="725.83" stroke="#000" stroke-width="1.20"/>
<line x1="110.80" y1="744.25" x2="100.10" y2="744.25" stroke="#000" stroke-width="1.20"/>
<line x1="674.20" y1="744.25" x2="684.90" y2="744.25" stroke="#000" stroke-width="1.20"/>
<line x1="110.80" y1="762.67" x2="105.30" y2="762.67" stroke="#000" stroke-width="1.20"/>
<line x1="674.20" y1="762.67" x2="679.70" y2="762.67" stroke="#000" stroke-width="1.20"/>
<line x1="110.80" y1="781.10" x2="105.30" y2="781.10" stroke="#000" stroke-width="1.20"/>
<line x1="674.20" y1="781.10" x2="679.70" y2="781.10" stroke="#000" stroke-width="1.20"/>
<line x1="110.80" y1="799.52" x2="105.30" y2="799.52" stroke="#000" stroke-width="1.20"/>
<line x1="674.20" y1="799.52" x2="679.70" y2="799.52" stroke="#000" stroke-width="1.20"/>
<line x1="110.80" y1="817.95" x2="105.30" y2="817.95" stroke="#000" stroke-width="1.20"/>
<line x1="674.20" y1="817.95" x2="679.70" y2="817.95" stroke="#000" stroke-width="1.20"/>
<line x1="110.80" y1="836.38" x2="100.10" y2="836.38" stroke="#000" stroke-width="1.20"/>
<line x1="674.20" y1="836.38" x2="684.90" y2="836.38" stroke="#000" stroke-width="1.20"/>
<line x1="110.80" y1="854.80" x2="105.30" y2="854.80" stroke="#000" stroke-width="1.20"/>
<line x1="674.20" y1="854.80" x2="679.70" y2="854.80" stroke="#000" stroke-width="1.20"/>
<line x1="110.80" y1="873.23" x2="105.30" y2="873.23" stroke="#000" stroke-width="1.20"/>
<line x1="674.20" y1="873.23" x2="679.70" y2="873.23" stroke="#000" stroke-width="1.20"/>
<line x1="110.80" y1="891.65" x2="105.30" y2="891.65" stroke="#000" stroke-width="1.20"/>
<line x1="674.20" y1="891.65" x2="679.70" y2="891.65" stroke="#000" stroke-width="1.20"/>
<line x1="110.80" y1="910.08" x2="105.30" y2="910.08" stroke="#000" stroke-width="1.20"/>
<line x1="674.20" y1="910.08" x2="679.70" y2="910.08" stroke="#000" stroke-width="1.20"/>
<line x1="110.80" y1="928.50" x2="100.10" y2="928.50" stroke="#000" stroke-width="1.20"/>
<line x1="674.20" y1="928.50" x2="684.90" y2="928.50" stroke="#000" stroke-width="1.20"/>
<line x1="110.80" y1="946.92" x2="105.30" y2="946.92" stroke="#000" stroke-width="1.20"/>
<line x1="674.20" y1="946.92" x2="679.70" y2="946.92" stroke="#000" stroke-width="1.20"/>
<line x1="110.80" y1="965.35" x2="105.30" y2="965.35" stroke="#000" stroke-width="1.20"/>
<line x1="674.20" y1="965.35" x2="679.70" y2="965.35" stroke="#000" stroke-width="1.20"/>
<rect x="110.80" y="560.00" width="563.40" height="423.60" fill="none" stroke="#000" stroke-width="2"/>
<text transform="translate(96.20,567.40) scale(1,1.050)" font-size="20.50" text-anchor="end">5.0</text>
<text transform="translate(96.20,659.53) scale(1,1.050)" font-size="20.50" text-anchor="end">4.5</text>
<text transform="translate(96.20,751.65) scale(1,1.050)" font-size="20.50" text-anchor="end">4.0</text>
<text transform="translate(96.20,843.78) scale(1,1.050)" font-size="20.50" text-anchor="end">3.5</text>
<text transform="translate(96.20,935.90) scale(1,1.050)" font-size="20.50" text-anchor="end">3.0</text>
<text transform="translate(121.60,1013.90) scale(1,1.050)" font-size="20.50" text-anchor="middle">1.0</text>
<text transform="translate(230.02,1013.90) scale(1,1.050)" font-size="20.50" text-anchor="middle">1.2</text>
<text transform="translate(338.44,1013.90) scale(1,1.050)" font-size="20.50" text-anchor="middle">1.4</text>
<text transform="translate(446.86,1013.90) scale(1,1.050)" font-size="20.50" text-anchor="middle">1.6</text>
<text transform="translate(555.28,1013.90) scale(1,1.050)" font-size="20.50" text-anchor="middle">1.8</text>
<text transform="translate(663.70,1013.90) scale(1,1.050)" font-size="20.50" text-anchor="middle">2.0</text>
<text transform="translate(392.20,1046.40) scale(1,1.050)" font-size="24.95" text-anchor="middle">Cratering rate relative to the NPF</text>
<text transform="translate(49.20,771.00) rotate(-90) scale(1,1.050)" font-size="25.10" text-anchor="middle">Regolith thickness (m)</text>
<text transform="translate(-2.40,586.10) scale(1,1.030)" font-size="33.20">(b)</text>
<rect x="120.2" y="569.5" width="356.30" height="125.50" fill="#fff" stroke="#000" stroke-width="1.3"/>
<line x1="126.3" y1="587.0" x2="154.6" y2="587.0" stroke="#f00000" stroke-width="3.6"/>
<line x1="126.3" y1="609.0" x2="154.6" y2="609.0" stroke="#000" stroke-width="2.8"/>
<circle cx="140.6" cy="609.1" r="6" fill="#000"/>
<circle cx="140.6" cy="629.6" r="6" fill="#7fbfb9"/>
<circle cx="140.6" cy="651.4" r="6" fill="#788ed2"/>
<circle cx="140.6" cy="673.2" r="6" fill="#dc7ab2"/>
<text transform="translate(166.00,595.10) scale(1,1.050)" font-size="19.80">Estimation from crater morphology</text>
<text transform="translate(166.00,615.80) scale(1,1.050)" font-size="19.80">Model results</text>
<text transform="translate(166.00,636.80) scale(1,1.050)" font-size="19.80">PF 2: Speyerer et al. (2016)</text>
<text transform="translate(166.00,658.50) scale(1,1.050)" font-size="19.80">PF 3: Culler et al. (2000)</text>
<text transform="translate(166.00,680.00) scale(1,1.050)" font-size="19.80">PF 4: Mazrouei et al. (2019)</text>
</svg></body></html>
